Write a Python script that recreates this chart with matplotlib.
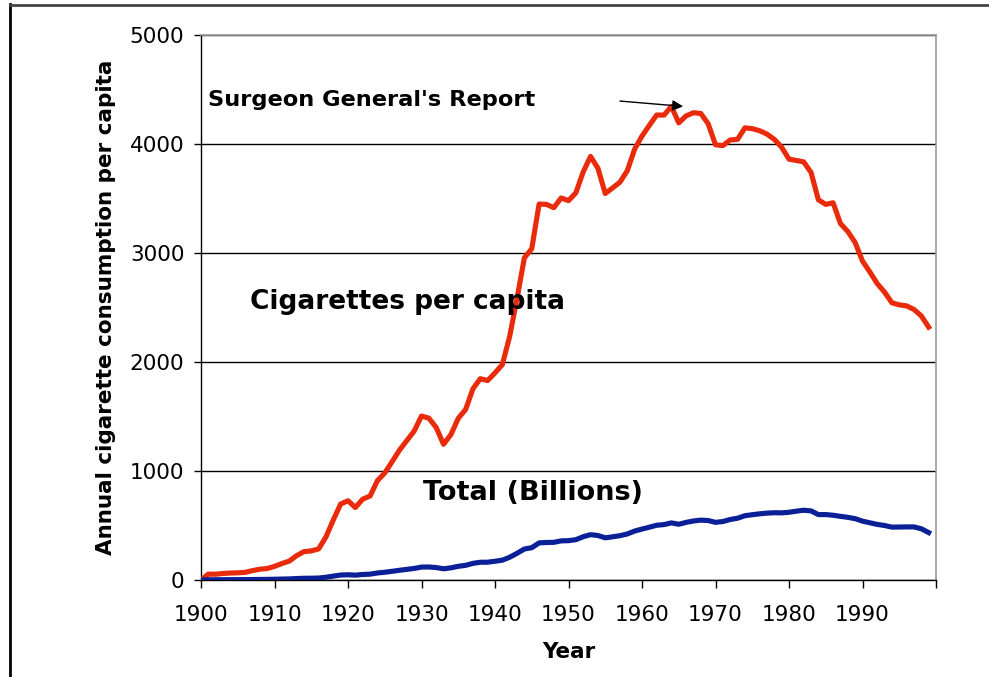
import matplotlib
matplotlib.use("Agg")
import matplotlib.pyplot as plt
from matplotlib.lines import Line2D

years = list(range(1900, 2000))

per_capita = [
    0, 54, 53, 60, 64, 66, 70, 86, 99, 105,
    125, 151, 173, 223, 260, 267, 285, 395, 551, 697,
    727, 665, 742, 770, 911, 982, 1085, 1191, 1279, 1366,
    1504, 1485, 1399, 1245, 1334, 1483, 1564, 1754, 1847, 1830,
    1900, 1976, 2236, 2585, 2956, 3039, 3449, 3446, 3416, 3505,
    3480, 3552, 3744, 3886, 3778, 3546, 3597, 3650, 3755, 3953,
    4073, 4171, 4266, 4265, 4345, 4194, 4258, 4287, 4280, 4186,
    3993, 3985, 4037, 4043, 4148, 4141, 4122, 4091, 4043, 3970,
    3861, 3849, 3836, 3739, 3488, 3446, 3461, 3270, 3197, 3096,
    2926, 2826, 2720, 2641, 2543, 2524, 2515, 2482, 2423, 2320,
]

total_billions = [
    0, 2.5, 2.5, 2.8, 3.1, 3.3, 3.6, 4.5, 5.3, 5.7,
    7.0, 8.6, 10.1, 13.2, 15.8, 16.5, 17.9, 25.2, 35.7, 45.6,
    48.0, 44.6, 50.7, 53.4, 64.4, 71.0, 79.8, 89.1, 97.5, 106.0,
    118.6, 119.3, 114.0, 102.8, 111.6, 125.7, 134.4, 152.7, 162.8, 163.4,
    172.1, 181.9, 208.9, 245.0, 284.3, 296.3, 340.6, 344.3, 345.4, 358.9,
    360.9, 369.8, 397.1, 416.0, 408.2, 387.0, 396.4, 406.5, 422.5, 448.9,
    467.5, 484.4, 502.5, 508.4, 523.9, 511.3, 528.8, 541.3, 549.3, 545.6,
    528.9, 536.5, 555.1, 566.8, 589.7, 599.0, 607.2, 613.5, 617.0, 616.0,
    621.5, 631.5, 640.0, 634.0, 600.0, 600.4, 594.0, 583.8, 575.0, 562.5,
    540.0, 525.0, 510.0, 500.0, 485.0, 486.0, 487.0, 487.0, 470.0, 435.0,
]

x_ticks = list(range(1900, 2001, 10))
x_tick_labels = [str(y) for y in range(1900, 2000, 10)] + [""]
y_ticks = [0, 1000, 2000, 3000, 4000, 5000]

RED = "#E92B0C"
BLUE = "#0B1F96"

fig = plt.figure(figsize=(9.89, 6.77), dpi=100)
ax = fig.add_axes([201/989, 1-580/677, (936-201)/989, (580-35)/677])

ax.plot(years, per_capita, color=RED, lw=3.7, solid_joinstyle="round", zorder=3)
ax.plot(years, total_billions, color=BLUE, lw=3.7, solid_joinstyle="round", zorder=3)

ax.set_xlim(1900, 2000)
ax.set_ylim(0, 5000)
ax.set_xticks(x_ticks)
ax.set_xticklabels(x_tick_labels)
ax.set_yticks(y_ticks)
ax.yaxis.grid(True, color="black", lw=1.0)
ax.set_axisbelow(True)

for s in ["top", "right"]:
    ax.spines[s].set_color("#999999")
    ax.spines[s].set_linewidth(1.2)
for s in ["left", "bottom"]:
    ax.spines[s].set_color("black")
    ax.spines[s].set_linewidth(1.0)

ax.tick_params(axis="x", direction="out", length=6, width=1, pad=12, labelsize=15.5)
ax.tick_params(axis="y", direction="out", length=5, width=1, pad=7, labelsize=15.5)

ax.set_xlabel("Year", fontsize=15.5, fontweight="bold", labelpad=12)
ax.set_ylabel("Annual cigarette consumption per capita", fontsize=15.5,
              fontweight="bold", labelpad=10)

ax.text(1901, 4400, "Surgeon General's Report", fontsize=16.2, fontweight="bold",
        ha="left", va="center")
ax.annotate("", xy=(1965.6, 4345), xytext=(1957.0, 4394),
            arrowprops=dict(arrowstyle="-|>", color="black", lw=1.0,
                            mutation_scale=16, shrinkA=0, shrinkB=0))
ax.text(1906.7, 2550, "Cigarettes per capita", fontsize=19, fontweight="bold",
        ha="left", va="center")
ax.text(1930.2, 800, "Total (Billions)", fontsize=19.5, fontweight="bold",
        ha="left", va="center")

# outer frame lines (left and top)
fig.add_artist(Line2D([10/989, 10/989], [0, 1-4/677], transform=fig.transFigure,
                      color="black", lw=2.0))
fig.add_artist(Line2D([10/989, 1], [1-4.5/677, 1-4.5/677], transform=fig.transFigure,
                      color="#444444", lw=2.0))

fig.savefig("out.png", dpi=100)
